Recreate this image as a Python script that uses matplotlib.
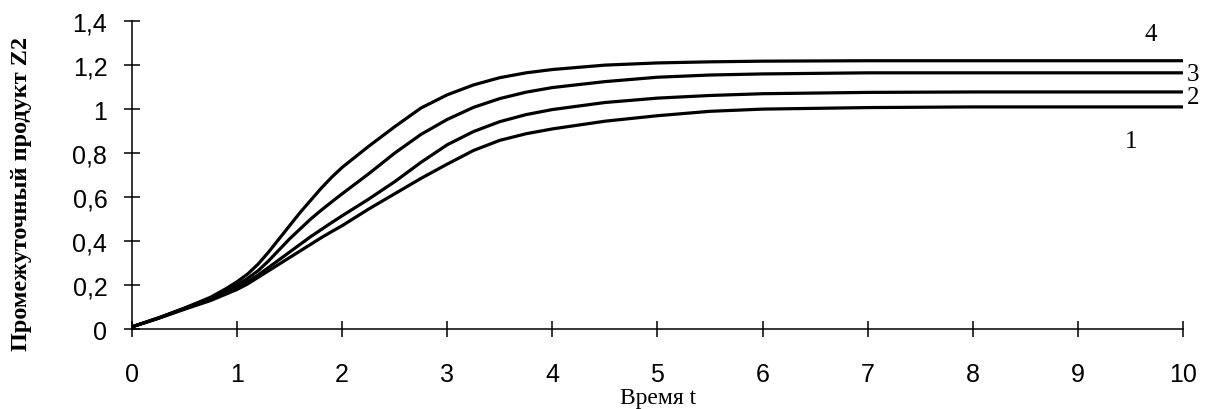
import matplotlib.pyplot as plt

# Данные
t = [0, 0.25, 0.5, 0.75, 0.9, 1.0, 1.1, 1.2, 1.3, 1.4, 1.5, 1.6, 1.7, 1.8, 1.9, 2.0,
     2.25, 2.5, 2.75, 3, 3.25, 3.5, 3.75, 4, 4.5, 5, 5.5, 6, 7, 8, 9, 10]
z2_1 = [0.01, 0.048, 0.09, 0.13, 0.16, 0.18, 0.205, 0.235, 0.265, 0.295, 0.325, 0.355, 0.385, 0.415, 0.443, 0.47,
        0.545, 0.615, 0.685, 0.75, 0.812, 0.858, 0.888, 0.91, 0.945, 0.97, 0.99, 1.0, 1.007, 1.01, 1.01, 1.01]
z2_2 = [0.01, 0.05, 0.093, 0.135, 0.165, 0.19, 0.215, 0.245, 0.28, 0.315, 0.35, 0.385, 0.42, 0.452, 0.484, 0.515,
        0.59, 0.67, 0.758, 0.838, 0.898, 0.943, 0.975, 0.998, 1.03, 1.05, 1.062, 1.07, 1.076, 1.078, 1.078, 1.078]
z2_3 = [0.01, 0.05, 0.095, 0.14, 0.175, 0.2, 0.23, 0.265, 0.31, 0.36, 0.41, 0.455, 0.5, 0.54, 0.578, 0.615,
        0.705, 0.8, 0.885, 0.953, 1.008, 1.048, 1.077, 1.098, 1.125, 1.145, 1.155, 1.16, 1.165, 1.165, 1.165, 1.165]
z2_4 = [0.01, 0.05, 0.095, 0.145, 0.185, 0.215, 0.25, 0.295, 0.35, 0.41, 0.47, 0.53, 0.585, 0.64, 0.69, 0.735,
        0.83, 0.92, 1.005, 1.065, 1.11, 1.143, 1.165, 1.18, 1.2, 1.21, 1.215, 1.218, 1.22, 1.22, 1.22, 1.22]

curves = [z2_1, z2_2, z2_3, z2_4]
curve_labels = ['1', '2', '3', '4']
# позиции подписей кривых (в единицах данных)
label_pos = [(9.51, 0.855), (10.1, 1.055), (10.1, 1.16), (9.69, 1.34)]

x_ticks = list(range(0, 11))
y_ticks = [0, 0.2, 0.4, 0.6, 0.8, 1.0, 1.2, 1.4]
y_tick_labels = ['0', '0,2', '0,4', '0,6', '0,8', '1', '1,2', '1,4']

fig = plt.figure(figsize=(12.05, 4.10), dpi=100)
ax = fig.add_axes([0.1095, 0.195, 0.8722, 0.751])

for z in curves:
    ax.plot(t, z, color='black', linewidth=2.3, solid_joinstyle='round', solid_capstyle='butt')

for lab, (x, y) in zip(curve_labels, label_pos):
    ax.text(x, y, lab, fontsize=18, family='Liberation Serif', ha='center', va='center')

ax.set_xlim(0, 10)
ax.set_ylim(0, 1.4)
ax.set_xticks(x_ticks)
ax.set_yticks(y_ticks)
ax.set_yticklabels(y_tick_labels)

for side in ['top', 'right']:
    ax.spines[side].set_visible(False)
for side in ['left', 'bottom']:
    ax.spines[side].set_linewidth(1.1)

ax.tick_params(axis='both', direction='inout', length=11.5, width=1.1,
               labelsize=18)
ax.tick_params(axis='x', pad=18)
ax.tick_params(axis='y', pad=12)
for lbl in ax.get_xticklabels() + ax.get_yticklabels():
    lbl.set_family('Liberation Sans')

fig.text(0.546, 0.027, 'Время t', fontsize=17, family='Liberation Serif', ha='center', va='center')
fig.text(0.018, 0.527, 'Промежуточный продукт Z2', fontsize=17.5, family='Liberation Serif',
         fontweight='bold', rotation=90, ha='center', va='center')

fig.savefig('out.png', dpi=100)
